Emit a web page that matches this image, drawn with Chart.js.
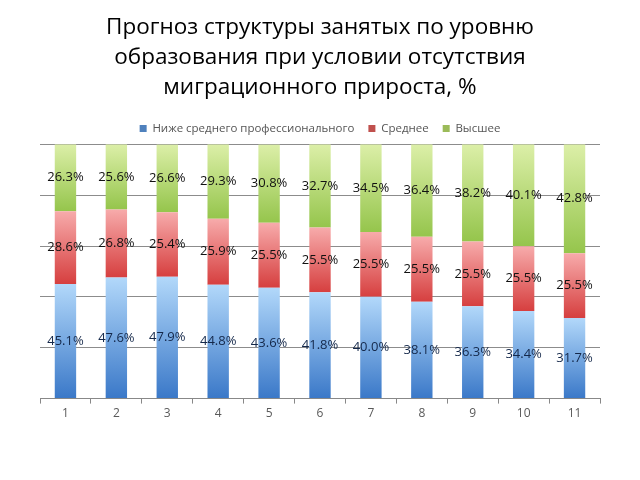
<!DOCTYPE html>
<html><head><meta charset="utf-8">
<script src="https://cdn.jsdelivr.net/npm/chart.js@4"></script>
<style>html,body{margin:0;padding:0;background:#fff}#wrap{width:640px;height:480px;position:relative}</style>
</head><body><div id="wrap"><canvas id="c" width="640" height="480"></canvas></div>
<script>
const titleLines = ["Прогноз структуры занятых по уровню", "образования при условии отсутствия", "миграционного прироста, %"];
const categories = ["1","2","3","4","5","6","7","8","9","10","11"];
const seriesNames = ["Ниже среднего профессионального", "Среднее", "Высшее"];
const belowSecondary = [45.1, 47.6, 47.9, 44.8, 43.6, 41.8, 40.0, 38.1, 36.3, 34.4, 31.7];
const secondary = [28.6, 26.8, 25.4, 25.9, 25.5, 25.5, 25.5, 25.5, 25.5, 25.5, 25.5];
const higher = [26.3, 25.6, 26.6, 29.3, 30.8, 32.7, 34.5, 36.4, 38.2, 40.1, 42.8];
const yTicks = [0, 20, 40, 60, 80, 100];

const FONT = "'Open Sans', 'Noto Sans', sans-serif";
const gradStops = [
  ["#b2d8fa", "#3a78c8"],
  ["#f7abab", "#d63f3f"],
  ["#dcefa8", "#95c54c"]
];
const solid = ["#4f81bd", "#c0504d", "#9bbb59"];
const labelColors = ["#14284a", "#111", "#111"];

function segGrad(di) {
  return function(ctx) {
    const chart = ctx.chart;
    const y = chart.scales.y;
    if (!chart.chartArea || !y || ctx.type !== 'data') return solid[di];
    const i = ctx.dataIndex;
    let base = 0;
    for (let k = 0; k < di; k++) base += chart.data.datasets[k].data[i];
    const v = chart.data.datasets[di].data[i];
    const top = y.getPixelForValue(Math.min(base + v, 100));
    const bot = y.getPixelForValue(base);
    if (!isFinite(top) || !isFinite(bot) || top === bot) return solid[di];
    const g = chart.ctx.createLinearGradient(0, top, 0, bot);
    g.addColorStop(0, gradStops[di][0]);
    g.addColorStop(1, gradStops[di][1]);
    return g;
  };
}

const labelPlugin = {
  id: 'segLabels',
  afterDatasetsDraw(chart) {
    const c = chart.ctx;
    c.save();
    c.font = "13px " + FONT;
    c.textAlign = 'center';
    c.textBaseline = 'middle';
    chart.data.datasets.forEach((ds, di) => {
      const meta = chart.getDatasetMeta(di);
      meta.data.forEach((el, i) => {
        const p = el.getProps(['x', 'y', 'base'], true);
        c.fillStyle = labelColors[di];
        c.fillText(ds.data[i].toFixed(1) + '%', p.x, (p.y + p.base) / 2);
      });
    });
    c.restore();
  }
};

const datasets = [belowSecondary, secondary, higher].map((d, di) => ({
  label: seriesNames[di],
  data: d,
  backgroundColor: segGrad(di),
  borderWidth: 0,
  barPercentage: 0.42,
  categoryPercentage: 1.0
}));

new Chart(document.getElementById('c'), {
  type: 'bar',
  data: { labels: categories, datasets },
  plugins: [labelPlugin],
  options: {
    responsive: false,
    animation: false,
    layout: { padding: { left: 40, right: 40, top: 8, bottom: 56 } },
    plugins: {
      title: {
        display: true,
        text: titleLines,
        color: '#000',
        font: { family: FONT, size: 22.5, weight: 'normal', lineHeight: 1.33 },
        padding: { top: 5, bottom: 6 }
      },
      legend: {
        display: true,
        labels: {
          boxWidth: 7, boxHeight: 7, padding: 14,
          color: '#555',
          font: { family: FONT, size: 11.5 },
          generateLabels(chart) {
            return seriesNames.map((n, i) => ({ text: n, fillStyle: solid[i], strokeStyle: solid[i], lineWidth: 0, datasetIndex: i, fontColor: '#555' }));
          }
        }
      },
      tooltip: { enabled: false }
    },
    scales: {
      x: {
        stacked: true,
        grid: { display: true, drawOnChartArea: false, drawTicks: true, tickLength: 5, color: '#888', offset: true },
        border: { display: true, color: '#888' },
        ticks: { color: '#595959', font: { family: FONT, size: 12 }, padding: 3 }
      },
      y: {
        stacked: true,
        min: 0, max: 100,
        afterBuildTicks(axis) { axis.ticks = yTicks.map(v => ({ value: v })); },
        grid: { color: '#8c8c8c', drawTicks: false, lineWidth: 1 },
        border: { display: false },
        ticks: { display: false }
      }
    }
  }
});
</script></body></html>
